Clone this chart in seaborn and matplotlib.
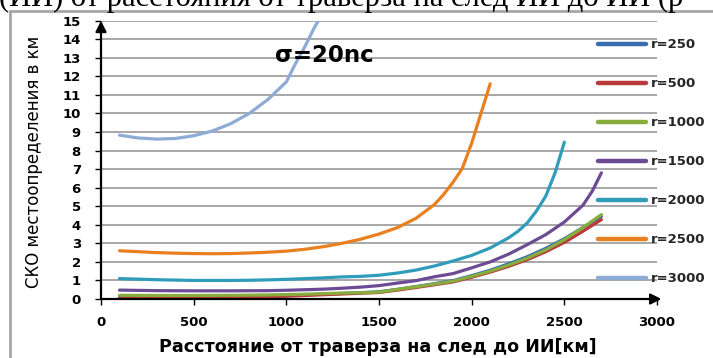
import matplotlib
matplotlib.use("Agg")
import matplotlib.pyplot as plt
from matplotlib.patches import Rectangle
import seaborn as sns
import pandas as pd

# Series: localisation RMS error (km) vs distance from traverse (km)
dist_low = [100, 300, 500, 700, 900, 1000, 1100, 1200, 1300, 1400, 1500, 1600,
            1700, 1800, 1900, 2000, 2100, 2200, 2300, 2400, 2500, 2600, 2700]
r250 = [0.10, 0.10, 0.11, 0.13, 0.17, 0.19, 0.22, 0.26, 0.30, 0.34, 0.39, 0.52,
        0.67, 0.83, 0.99, 1.26, 1.55, 1.90, 2.28, 2.73, 3.25, 3.85, 4.45]
r500 = [0.05, 0.05, 0.06, 0.08, 0.12, 0.15, 0.19, 0.23, 0.27, 0.31, 0.35, 0.48,
        0.62, 0.77, 0.92, 1.17, 1.45, 1.76, 2.12, 2.55, 3.05, 3.65, 4.28]
r1000 = [0.20, 0.19, 0.19, 0.20, 0.22, 0.24, 0.26, 0.29, 0.32, 0.34, 0.37, 0.52,
         0.66, 0.81, 0.96, 1.22, 1.50, 1.83, 2.20, 2.65, 3.20, 3.85, 4.55]

dist_1500 = [100, 300, 500, 700, 900, 1000, 1100, 1200, 1300, 1400, 1500, 1600,
             1700, 1800, 1900, 2000, 2100, 2200, 2300, 2400, 2500, 2600, 2650,
             2700]
r1500 = [0.48, 0.45, 0.44, 0.44, 0.45, 0.47, 0.50, 0.53, 0.58, 0.64, 0.72, 0.86,
         0.99, 1.20, 1.37, 1.68, 2.00, 2.42, 2.93, 3.47, 4.15, 5.05, 5.80, 6.80]

dist_2000 = [100, 200, 300, 400, 500, 600, 700, 800, 900, 1000, 1100, 1200, 1300,
             1400, 1500, 1600, 1700, 1800, 1900, 2000, 2100, 2200, 2250, 2300,
             2350, 2400, 2450, 2500]
r2000 = [1.10, 1.07, 1.04, 1.02, 1.00, 1.00, 1.00, 1.01, 1.03, 1.06, 1.10, 1.14,
         1.19, 1.22, 1.28, 1.40, 1.56, 1.78, 2.05, 2.35, 2.75, 3.30, 3.65, 4.10,
         4.75, 5.55, 6.80, 8.45]

dist_2500 = [100, 200, 300, 400, 500, 600, 700, 800, 900, 1000, 1100, 1200, 1300,
             1400, 1500, 1600, 1700, 1800, 1850, 1900, 1950, 2000, 2050, 2100]
r2500 = [2.60, 2.55, 2.50, 2.47, 2.45, 2.44, 2.45, 2.48, 2.52, 2.58, 2.68, 2.82,
         3.00, 3.22, 3.50, 3.85, 4.35, 5.10, 5.65, 6.30, 7.05, 8.40, 10.00, 11.60]

dist_3000 = [100, 200, 300, 400, 500, 600, 700, 800, 900, 1000, 1050, 1100, 1150,
             1200]
r3000 = [8.83, 8.68, 8.62, 8.65, 8.80, 9.05, 9.45, 10.00, 10.75, 11.70, 12.70,
         13.60, 14.60, 15.50]

series_labels = ["r=250", "r=500", "r=1000", "r=1500", "r=2000", "r=2500", "r=3000"]
series_x = [dist_low, dist_low, dist_low, dist_1500, dist_2000, dist_2500, dist_3000]
series_y = [r250, r500, r1000, r1500, r2000, r2500, r3000]
colors = ["#3a6db0", "#b83a3b", "#87ae3d", "#6c4a94", "#2f9cba", "#e8801f", "#8eabd6"]

frames = []
for lab, xs, ys in zip(series_labels, series_x, series_y):
    frames.append(pd.DataFrame({"dist": xs, "sko": ys, "r": lab}))
df = pd.concat(frames, ignore_index=True)

sns.set_theme(style="white")
plt.rcParams["font.family"] = ["DejaVu Sans"]

W, H = 713, 358
fig = plt.figure(figsize=(W / 100, H / 100), dpi=100)
fig.patch.set_facecolor("white")

# chart-area border and the clipped document line above it
fig.add_artist(Rectangle((10 / W, -0.05), 1.0, 1 - 11 / H + 0.05,
                         transform=fig.transFigure, fill=False,
                         edgecolor="#a6a6a6", linewidth=2.0))
fig.text(-0.002, 1 - 6 / H, "(ИИ) от расстояния от траверза на след ИИ до ИИ (р",
         family="Liberation Serif", fontsize=22, va="baseline", ha="left",
         color="black")

left, right = 101 / W, 657 / W
bottom, top = 1 - 299 / H, 1 - 20.7 / H
ax = fig.add_axes([left, bottom, right - left, top - bottom])
ax.set_facecolor("none")

sns.lineplot(data=df, x="dist", y="sko", hue="r", hue_order=series_labels,
             palette=colors, sort=False, estimator=None, linewidth=2.3,
             legend=True, ax=ax)
for ln in ax.get_lines():
    ln.set_solid_capstyle("round")
    ln.set_solid_joinstyle("round")

ax.set_xlim(0, 3000)
ax.set_ylim(0, 15)
ax.set_xticks(range(0, 3001, 500))
ax.set_yticks(range(0, 16))
for yv in range(1, 16):
    ax.axhline(yv, color="#909090", linewidth=1.1, zorder=0)

for side in ["top", "right", "left", "bottom"]:
    ax.spines[side].set_visible(False)

# axis lines with arrow heads
ax.annotate("", xy=(0, 1.0), xytext=(0, 0), xycoords="axes fraction",
            arrowprops=dict(arrowstyle="-|>", color="black", lw=1.6,
                            mutation_scale=16, shrinkA=0, shrinkB=0),
            annotation_clip=False)
ax.annotate("", xy=(1.008, 0), xytext=(0, 0), xycoords="axes fraction",
            arrowprops=dict(arrowstyle="-|>", color="black", lw=1.6,
                            mutation_scale=16, shrinkA=0, shrinkB=0),
            annotation_clip=False)

ax.tick_params(axis="y", which="major", direction="out", length=4.5, width=1.0,
               color="black", pad=10, labelsize=9.5, left=True)
ax.tick_params(axis="x", which="major", direction="out", length=4, width=1.0,
               color="black", pad=8, labelsize=9.5, bottom=True)
for t in ax.get_xticklabels() + ax.get_yticklabels():
    t.set_fontweight("bold")
    t.set_color("black")

ax.set_xlabel("Расстояние от траверза на след до ИИ[км]", fontsize=12.6,
              fontweight="bold", color="black")
ax.set_ylabel("СКО местоопределения в км", fontsize=12, color="black")
ax.xaxis.set_label_coords(0.498, -0.172)
ax.xaxis.label.set_va("center")
ax.yaxis.set_label_coords(-0.1205, 0.492)
ax.yaxis.label.set_va("center")

ax.text(324 / W, 1 - 55 / H, "σ=20nc", transform=fig.transFigure,
        fontsize=16.5, fontweight="bold", ha="center", va="center", color="black")

handles, labels = ax.get_legend_handles_labels()
for h in handles:
    h.set_linewidth(3.2)
ax.legend(handles, labels, loc="upper left",
          bbox_to_anchor=(598 / W, 1 - 38.5 / H),
          bbox_transform=fig.transFigure, frameon=False,
          prop={"size": 9.5, "weight": "bold"}, handlelength=3.6,
          handletextpad=0.4, labelspacing=1.97, borderpad=0, borderaxespad=0)

fig.savefig("out.png", dpi=100)
